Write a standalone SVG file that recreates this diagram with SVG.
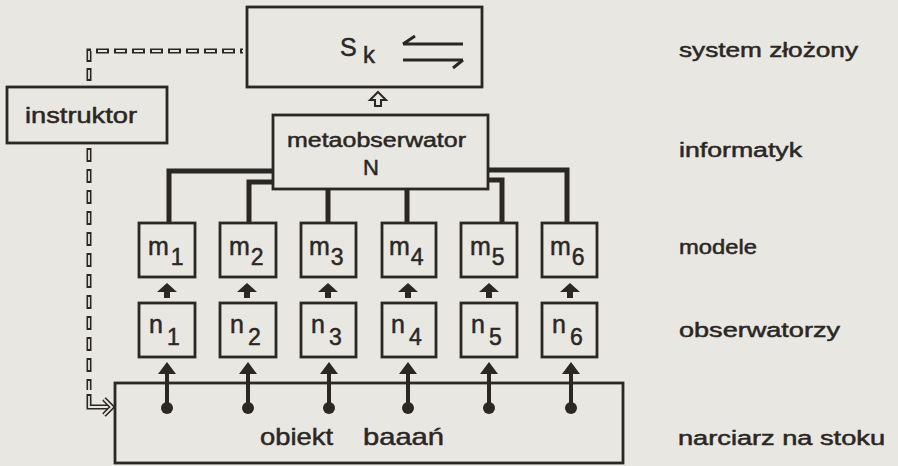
<svg xmlns="http://www.w3.org/2000/svg" width="898" height="466" viewBox="0 0 898 466">
<style>
.bg{fill:#e9e7e2}
.box{fill:none;stroke:#2b2725;stroke-width:2.8}
.t{font-family:"Liberation Sans",Arial,sans-serif;fill:#2b2725;stroke:#2b2725;stroke-width:0.5}
.thick{fill:none;stroke:#2b2725;stroke-width:5}
.dOut{fill:none;stroke:#2b2725;stroke-width:5}
.dIn{fill:none;stroke:#e9e7e2;stroke-width:1.8}
.fa{fill:#2b2725}
.stem{stroke:#2b2725;stroke-width:4}
</style>
<rect class="bg" x="0" y="0" width="898" height="466"/>

<g id="connectors">
  <path class="dOut" d="M89 62 V51 H243" stroke-dasharray="13 5"/>
  <path class="dIn" d="M89 62 V51 H243" stroke-dasharray="9 9" stroke-dashoffset="-2"/>
  <path class="dOut" d="M89 68 V81"/>
  <path class="dIn" d="M89 70 V79"/>
  <path class="dOut" d="M89 148 V390" stroke-dasharray="14 7"/>
  <path class="dIn" d="M89 148 V390" stroke-dasharray="10 11" stroke-dashoffset="-2"/>
  <path class="dOut" d="M89 394 V407 H111"/>
  <path class="dIn" d="M89 396 V407 H111"/>
  <polyline class="dOut" points="104,399 112,407 104,415"/>
  <polyline class="dIn" points="104,399 112,407 104,415"/>
  <polygon points="378,92 386,100 381,100 381,106 375,106 375,100 370,100" fill="#e9e7e2" stroke="#2b2725" stroke-width="2"/>
  <path class="thick" d="M273 171 H169 V223"/>
  <path class="thick" d="M273 182 H249 V223"/>
  <path class="thick" d="M328 189 V223"/>
  <path class="thick" d="M407 189 V223"/>
  <path class="thick" d="M488 180 H502 V223"/>
  <path class="thick" d="M488 170 H567 V223"/>
  <g class="fa">
    <polygon points="167,283 177,292 170,292 170,298 164,298 164,292 157,292"/>
    <polygon points="247,283 257,292 250,292 250,298 244,298 244,292 237,292"/>
    <polygon points="328,283 338,292 331,292 331,298 325,298 325,292 318,292"/>
    <polygon points="408,283 418,292 411,292 411,298 405,298 405,292 398,292"/>
    <polygon points="489,283 499,292 492,292 492,298 486,298 486,292 479,292"/>
    <polygon points="570,283 580,292 573,292 573,298 567,298 567,292 560,292"/>
  </g>
  <g class="fa">
    <line class="stem" x1="167" y1="372" x2="167" y2="408"/><polygon points="167,362 176,374 158,374"/><circle cx="167" cy="408" r="6"/>
    <line class="stem" x1="248" y1="372" x2="248" y2="408"/><polygon points="248,362 257,374 239,374"/><circle cx="248" cy="408" r="6"/>
    <line class="stem" x1="329" y1="372" x2="329" y2="408"/><polygon points="329,362 338,374 320,374"/><circle cx="329" cy="408" r="6"/>
    <line class="stem" x1="408" y1="372" x2="408" y2="408"/><polygon points="408,362 417,374 399,374"/><circle cx="408" cy="408" r="6"/>
    <line class="stem" x1="489" y1="372" x2="489" y2="408"/><polygon points="489,362 498,374 480,374"/><circle cx="489" cy="408" r="6"/>
    <line class="stem" x1="571" y1="372" x2="571" y2="408"/><polygon points="571,362 580,374 562,374"/><circle cx="571" cy="408" r="6"/>
  </g>
</g>

<g id="sk">
  <rect class="box" x="247" y="7" width="235" height="80" stroke-width="3"/>
  <text class="t" x="340" y="56" font-size="25">S</text>
  <text class="t" x="363" y="63" font-size="24">k</text>
  <path d="M403 44 H463 M403 44 L415 36 M403 60 H463 M463 60 L453 68" fill="none" stroke="#2b2725" stroke-width="3"/>
</g>

<g id="instruktor">
  <rect class="box" x="7" y="87" width="160" height="56"/>
  <text class="t" x="25" y="123" font-size="22" textLength="112" lengthAdjust="spacingAndGlyphs">instruktor</text>
</g>

<g id="metaobserwator">
  <rect class="box" x="273" y="115" width="215" height="74"/>
  <text class="t" x="287" y="147" font-size="20" textLength="179" lengthAdjust="spacingAndGlyphs">metaobserwator</text>
  <text class="t" x="363" y="175" font-size="22">N</text>
</g>

<g id="m1"><rect class="box" x="139" y="223" width="56" height="54"/><text class="t" x="148" y="255" font-size="25">m<tspan dx="2" dy="10" font-size="23">1</tspan></text></g>
<g id="m2"><rect class="box" x="220" y="223" width="56" height="54"/><text class="t" x="229" y="255" font-size="25">m<tspan dx="1" dy="10" font-size="23">2</tspan></text></g>
<g id="m3"><rect class="box" x="301" y="223" width="55" height="54"/><text class="t" x="309" y="255" font-size="25">m<tspan dx="1" dy="10" font-size="23">3</tspan></text></g>
<g id="m4"><rect class="box" x="382" y="223" width="54" height="54"/><text class="t" x="389" y="255" font-size="25">m<tspan dx="1" dy="10" font-size="23">4</tspan></text></g>
<g id="m5"><rect class="box" x="461" y="223" width="56" height="54"/><text class="t" x="470" y="255" font-size="25">m<tspan dx="1" dy="10" font-size="23">5</tspan></text></g>
<g id="m6"><rect class="box" x="542" y="223" width="55" height="54"/><text class="t" x="550" y="255" font-size="25">m<tspan dx="1" dy="10" font-size="23">6</tspan></text></g>

<g id="n1"><rect class="box" x="139" y="303" width="56" height="54"/><text class="t" x="149" y="333" font-size="25">n<tspan dx="4" dy="12" font-size="23">1</tspan></text></g>
<g id="n2"><rect class="box" x="220" y="303" width="56" height="54"/><text class="t" x="230" y="333" font-size="25">n<tspan dx="4" dy="12" font-size="23">2</tspan></text></g>
<g id="n3"><rect class="box" x="301" y="303" width="55" height="54"/><text class="t" x="311" y="333" font-size="25">n<tspan dx="4" dy="12" font-size="23">3</tspan></text></g>
<g id="n4"><rect class="box" x="382" y="303" width="54" height="54"/><text class="t" x="391" y="333" font-size="25">n<tspan dx="4" dy="12" font-size="23">4</tspan></text></g>
<g id="n5"><rect class="box" x="461" y="303" width="56" height="54"/><text class="t" x="471" y="333" font-size="25">n<tspan dx="4" dy="12" font-size="23">5</tspan></text></g>
<g id="n6"><rect class="box" x="542" y="303" width="55" height="54"/><text class="t" x="552" y="333" font-size="25">n<tspan dx="4" dy="12" font-size="23">6</tspan></text></g>

<g id="obiekt">
  <rect class="box" x="115" y="383" width="508" height="80"/>
  <text class="t" x="260" y="445" font-size="24" textLength="73" lengthAdjust="spacingAndGlyphs">obiekt</text>
  <text class="t" x="363" y="445" font-size="24" textLength="81" lengthAdjust="spacingAndGlyphs">baaań</text>
</g>

<g id="labels">
  <text class="t" x="679" y="57" font-size="20" textLength="179" lengthAdjust="spacingAndGlyphs">system  złożony</text>
  <text class="t" x="679" y="157" font-size="20" textLength="123" lengthAdjust="spacingAndGlyphs">informatyk</text>
  <text class="t" x="679" y="254" font-size="20" textLength="78" lengthAdjust="spacingAndGlyphs">modele</text>
  <text class="t" x="679" y="337" font-size="20" textLength="161" lengthAdjust="spacingAndGlyphs">obserwatorzy</text>
  <text class="t" x="678" y="445" font-size="20" textLength="207" lengthAdjust="spacingAndGlyphs">narciarz na stoku</text>
</g>
</svg>
